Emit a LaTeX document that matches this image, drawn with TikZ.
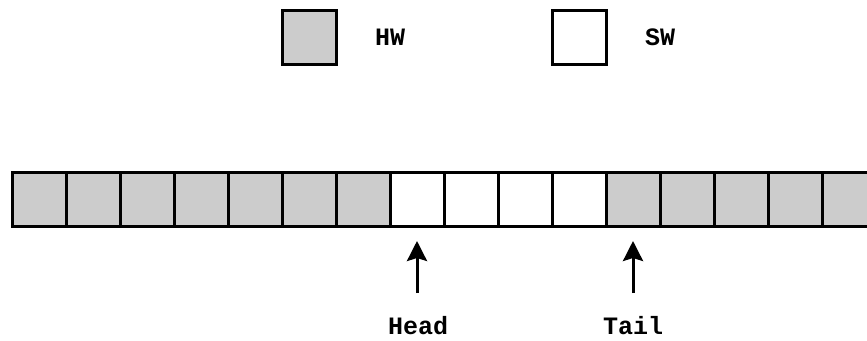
\documentclass[tikz,border=0pt]{standalone}
\usepackage{fontspec}
\setmonofont{Liberation Mono}
\usetikzlibrary{arrows.meta}
\definecolor{hwgray}{HTML}{CCCCCC}
\tikzset{
  cell/.style={draw=black, line width=3pt, minimum size=54pt, inner sep=0pt, outer sep=0pt},
  hwcell/.style={cell, fill=hwgray},
  swcell/.style={cell, fill=white},
  lbl/.style={font=\ttfamily\bfseries\fontsize{25}{28}\selectfont, inner sep=0pt},
  ptr/.style={line width=3pt, -{Stealth[length=20pt,width=20pt,inset=3pt]}}
}
\begin{document}
\begin{tikzpicture}[x=1pt,y=1pt]
  \useasboundingbox (0,0) rectangle (867,-340);
  \begin{scope}
    \clip (0,0) rectangle (867,-340);
    % legend
    \node[hwcell] (leghw) at (309,-37) {};
    \node[lbl] (leghwt) at (390,-37) {HW};
    \node[swcell] (legsw) at (579,-37) {};
    \node[lbl] (legswt) at (660,-37) {SW};
    % ring buffer cells: 7 HW, 4 SW, 5 HW
    \foreach \i in {1,...,16} {
      \pgfmathtruncatemacro{\issw}{(\i>7)&&(\i<12)}
      \ifnum\issw=1
        \node[swcell] (c\i) at ({39+54*(\i-1)},-199) {};
      \else
        \node[hwcell] (c\i) at ({39+54*(\i-1)},-199) {};
      \fi
    }
    % pointers
    \node[lbl] (head) at (418,-326) {Head};
    \node[lbl] (tail) at (633,-326) {Tail};
    \draw[ptr] ([yshift=-67pt]c8.south) -- ([yshift=-15pt]c8.south);
    \draw[ptr] ([yshift=-67pt]c12.south) -- ([yshift=-15pt]c12.south);
  \end{scope}
\end{tikzpicture}
\end{document}
